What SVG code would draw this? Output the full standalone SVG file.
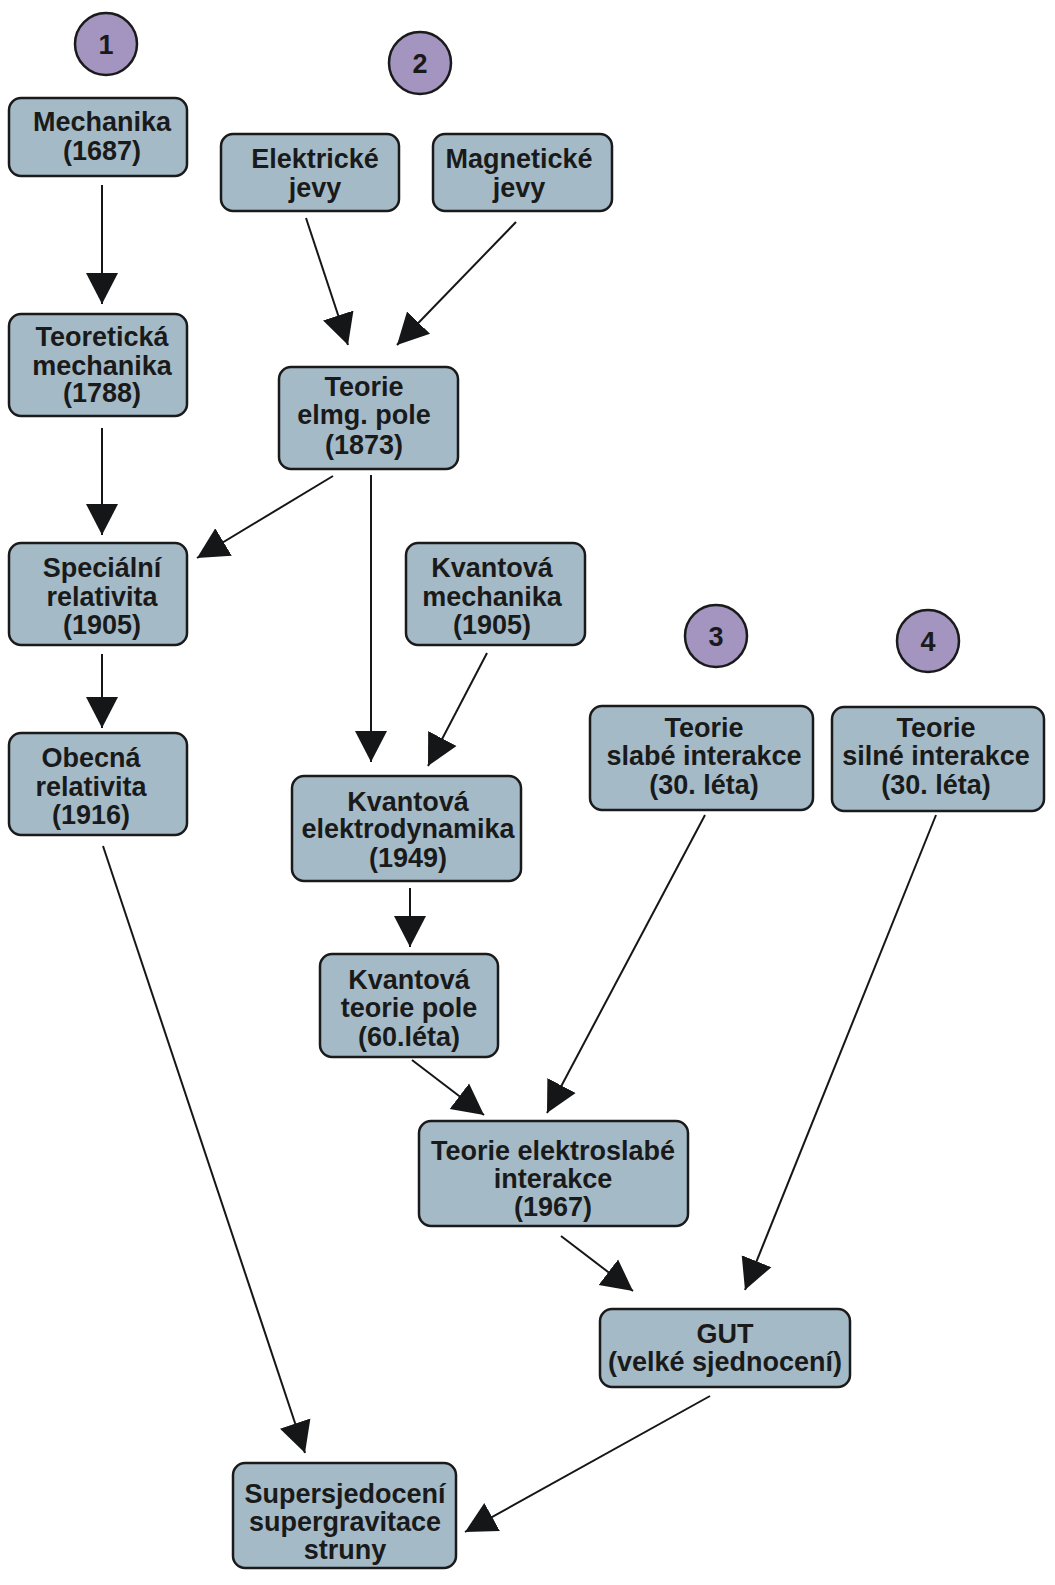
<svg xmlns="http://www.w3.org/2000/svg" width="1055" height="1585" viewBox="0 0 1055 1585">
<style>
.box{fill:#a4bac7;stroke:#1a1a1a;stroke-width:2.5}
.circ{fill:#a394c0;stroke:#1a1a1a;stroke-width:2.5}
text{font-family:"Liberation Sans",Arial,sans-serif;font-weight:bold;font-size:27px;fill:#1a1a1a;text-anchor:middle}
.con line{stroke:#141617;stroke-width:2;marker-end:url(#ah)}
</style>
<defs>
<marker id="ah" markerUnits="userSpaceOnUse" markerWidth="32" markerHeight="34" refX="31" refY="16" orient="auto" viewBox="0 0 32 32">
<path d="M0,0 L31,16 L0,32 z" fill="#141617"/>
</marker>
</defs>
<rect width="1055" height="1585" fill="#ffffff"/>
<g id="c1"><circle class="circ" cx="106" cy="44" r="31"/><text x="106" y="54">1</text></g>
<g id="c2"><circle class="circ" cx="420" cy="63" r="31"/><text x="420" y="73">2</text></g>
<g id="c3"><circle class="circ" cx="716" cy="636" r="31"/><text x="716" y="646">3</text></g>
<g id="c4"><circle class="circ" cx="928" cy="641" r="31"/><text x="928" y="651">4</text></g>
<g id="connectors" class="con">
<line x1="102" y1="185" x2="102" y2="304"/>
<line x1="102" y1="428" x2="102" y2="535"/>
<line x1="102" y1="654" x2="102" y2="728"/>
<line x1="306" y1="218" x2="348" y2="345"/>
<line x1="516" y1="222" x2="397" y2="345"/>
<line x1="333" y1="476" x2="197" y2="558"/>
<line x1="371" y1="475" x2="371" y2="762"/>
<line x1="487" y1="653" x2="428" y2="766"/>
<line x1="410" y1="888" x2="410" y2="947"/>
<line x1="412" y1="1060" x2="484" y2="1115"/>
<line x1="705" y1="815" x2="547" y2="1113"/>
<line x1="936" y1="815" x2="745" y2="1290"/>
<line x1="561" y1="1236" x2="633" y2="1291"/>
<line x1="103" y1="846" x2="305" y2="1453"/>
<line x1="710" y1="1396" x2="465" y2="1532"/>
</g>
<g id="n_mechanika"><rect class="box" x="9" y="98" width="178" height="78" rx="12"/><text x="102" y="131">Mechanika</text><text x="102" y="160">(1687)</text></g>
<g id="n_elektricke"><rect class="box" x="221" y="134" width="178" height="77" rx="12"/><text x="315" y="168">Elektrické</text><text x="315" y="197">jevy</text></g>
<g id="n_magneticke"><rect class="box" x="433" y="134" width="179" height="77" rx="12"/><text x="519" y="168">Magnetické</text><text x="519" y="197">jevy</text></g>
<g id="n_teor_mech"><rect class="box" x="9" y="314" width="178" height="102" rx="12"/><text x="102" y="346">Teoretická</text><text x="102" y="375">mechanika</text><text x="102" y="402">(1788)</text></g>
<g id="n_elmg"><rect class="box" x="279" y="367" width="179" height="102" rx="12"/><text x="364" y="396">Teorie</text><text x="364" y="424">elmg. pole</text><text x="364" y="454">(1873)</text></g>
<g id="n_spec"><rect class="box" x="9" y="543" width="178" height="102" rx="12"/><text x="102" y="577">Speciální</text><text x="102" y="606">relativita</text><text x="102" y="634">(1905)</text></g>
<g id="n_kvmech"><rect class="box" x="406" y="543" width="179" height="102" rx="12"/><text x="492" y="577">Kvantová</text><text x="492" y="606">mechanika</text><text x="492" y="634">(1905)</text></g>
<g id="n_obecna"><rect class="box" x="9" y="733" width="178" height="102" rx="12"/><text x="91" y="767">Obecná</text><text x="91" y="796">relativita</text><text x="91" y="824">(1916)</text></g>
<g id="n_slabe"><rect class="box" x="590" y="706" width="223" height="104" rx="12"/><text x="704" y="737">Teorie</text><text x="704" y="765">slabé interakce</text><text x="704" y="794">(30. léta)</text></g>
<g id="n_silne"><rect class="box" x="832" y="707" width="212" height="104" rx="12"/><text x="936" y="737">Teorie</text><text x="936" y="765">silné interakce</text><text x="936" y="794">(30. léta)</text></g>
<g id="n_qed"><rect class="box" x="292" y="776" width="229" height="105" rx="12"/><text x="408" y="811">Kvantová</text><text x="408" y="838">elektrodynamika</text><text x="408" y="867">(1949)</text></g>
<g id="n_qft"><rect class="box" x="320" y="954" width="178" height="103" rx="12"/><text x="409" y="989">Kvantová</text><text x="409" y="1017">teorie pole</text><text x="409" y="1046">(60.léta)</text></g>
<g id="n_ew"><rect class="box" x="419" y="1121" width="269" height="105" rx="12"/><text x="553" y="1160">Teorie elektroslabé</text><text x="553" y="1188">interakce</text><text x="553" y="1216">(1967)</text></g>
<g id="n_gut"><rect class="box" x="600" y="1309" width="250" height="78" rx="12"/><text x="725" y="1343">GUT</text><text x="725" y="1371">(velké sjednocení)</text></g>
<g id="n_super"><rect class="box" x="233" y="1463" width="223" height="105" rx="12"/><text x="345" y="1503">Supersjedocení</text><text x="345" y="1531">supergravitace</text><text x="345" y="1559">struny</text></g>
</svg>
